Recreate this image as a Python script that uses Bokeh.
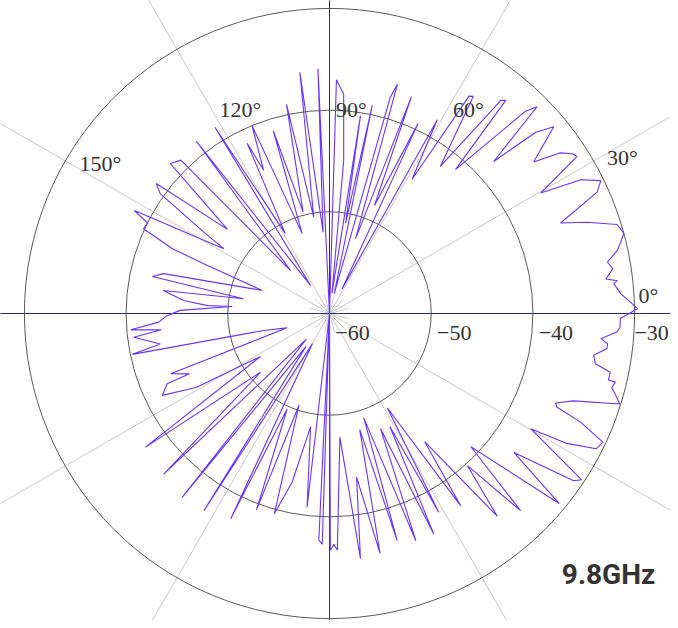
import numpy as np
from bokeh.plotting import figure
from bokeh.models import Range1d, ColumnDataSource
from bokeh.embed import file_html
from bokeh.resources import INLINE
from bokeh.core.properties import value

# ---------------- data ----------------
angles_deg = [
    0.9, 3.9, 6.0, 6.5, 7.1, 9.0, 10.5, 12.4, 15.2, 17.2, 19.5, 21.4, 24.4, 26.1, 28.0, 29.7,
    32.4, 33.3, 34.9, 36.6, 39.8, 41.3, 42.8, 44.9, 45.9, 48.8, 50.4, 51.2, 53.0, 56.5, 57.3, 58.4,
    60.9, 62.8, 65.0, 67.4, 69.3, 70.8, 73.5, 74.3, 76.5, 78.4, 79.9, 81.1, 83.0, 84.7, 86.3, 88.3,
    90.0, 92.7, 94.5, 97.0, 99.3, 101.6, 104.6, 107.1, 108.9, 112.4, 114.7, 115.8, 118.9, 121.6,
    124.0, 127.7, 132.2, 134.1,
    136.7, 140.5, 143.1, 144.7, 147.2, 148.5, 152.2, 153.5, 155.5, 157.6, 158.4, 161.1, 166.5,
    168.2, 170.3, 172.1, 174.9, 176.3, 175.9, 178.8,
    181.0, 182.9, 184.7, 185.5, 186.9, 190.2, 191.7, 194.5, 198.7, 200.8, 203.3, 203.4, 206.1,
    209.0, 211.9, 216.0, 220.4, 224.1, 228.0, 231.3, 234.5, 237.5, 240.5, 244.3, 246.1, 249.6,
    251.6, 254.6, 257.5, 260.5, 263.4,
    265.0, 267.3, 268.2, 269.3, 270.2, 271.1, 271.9, 274.8, 277.2, 279.4, 281.9, 284.6, 286.6,
    288.2, 290.8, 293.9, 295.3, 298.1, 298.8, 301.5, 304.3, 306.6, 309.6, 312.2, 314.1, 316.7,
    320.4, 323.0, 325.6, 326.6, 330.2, 331.3, 333.1, 334.8, 336.6, 337.6, 338.4, 340.3, 342.7,
    344.0, 345.3, 346.5, 346.6, 348.2, 349.3, 351.0, 352.8, 353.8, 354.7, 356.3, 357.3, 359.0,
    360.9,
]
gain_db = [
    -29.7, -31.3, -31.9, -31.5, -32.6, -31.8, -32.2, -31.0, -30.0, -30.4, -33.1, -35.6, -31.1, -30.3, -32.0, -36.1,
    -31.2, -31.4, -32.4, -35.0, -31.3, -33.0, -38.0, -31.2, -32.3, -41.2, -32.8, -33.1, -41.9, -34.4, -34.6, -44.5,
    -38.2, -57.3, -39.4, -48.5, -37.2, -52.2, -36.5, -37.9, -58.0, -39.1, -51.0, -40.3, -58.0, -44.9, -38.4, -37.0,
    -60.0, -35.9, -52.0, -36.1, -50.4, -39.0, -49.7, -41.2, -51.7, -40.0, -44.5, -41.4, -51.0, -38.5,
    -56.7, -38.6, -54.3, -39.0,
    -38.5, -47.0, -38.7, -39.6, -45.5, -47.8, -38.3, -40.0, -39.9, -43.3, -46.7, -53.0, -43.2,
    -42.2, -51.4, -43.5, -45.6, -48.0, -50.4, -45.3,
    -43.9, -43.2, -40.4, -43.4, -40.6, -43.1, -40.2, -53.3, -55.6, -43.3, -45.0, -42.6, -41.7,
    -45.0, -52.0, -37.6, -51.1, -37.3, -56.6, -36.8, -56.0, -37.0, -56.6, -37.6, -49.7, -39.4,
    -50.5, -39.6, -43.0, -48.7, -40.8,
    -60.0, -37.7, -37.3, -60.0, -36.7, -37.3, -36.7, -47.8, -35.7, -43.7, -35.9, -48.2, -36.7,
    -49.2, -36.1, -47.6, -36.0, -47.4, -37.7, -49.1, -37.1, -44.3, -34.1, -39.8, -33.0, -40.9,
    -30.7, -37.3, -30.9, -30.3, -37.2, -33.4, -30.6, -30.3, -33.1, -35.8, -36.1, -34.5, -30.1,
    -30.7, -31.3, -31.1, -31.8, -31.8, -33.4, -33.7, -32.5, -32.5, -33.2, -31.7, -31.4, -31.4,
    -29.7,
]

r_min_db = -60
ring_db = [-50, -40, -30]
radial_tick_db = [-60, -50, -40, -30]
radial_tick_labels = ["\u221260", "\u221250", "\u221240", "\u221230"]
spoke_deg = [30, 60, 120, 150]
angle_tick_labels = ["0°", "30°", "60°", "90°", "120°", "150°"]
freq_label = "9.8GHz"

# ---------------- layout / styles ----------------
PX_PER_DB = 10.17
W, H = 670, 620
CX, CY = 329, 313          # pole position inside the figure (from left / from top)

def rad(db):
    return np.maximum(np.asarray(db, dtype=float) - r_min_db, 0.0) * PX_PER_DB

p = figure(width=W, height=H, x_range=Range1d(-CX, W - CX), y_range=Range1d(-(H - CY), CY),
           output_backend="svg", toolbar_location=None, min_border=0,
           x_axis_location=None, y_axis_location=None)
p.grid.visible = False
p.outline_line_color = None
p.background_fill_color = "white"
p.border_fill_color = "white"

L = 1200
# light grey spokes
sp = np.deg2rad(np.array(spoke_deg, dtype=float))
p.segment(x0=-L * np.cos(sp), y0=-L * np.sin(sp), x1=L * np.cos(sp), y1=L * np.sin(sp),
          line_color="#c8c8c8", line_width=1)
# short minor spokes near the pole
mn = np.deg2rad(np.arange(15, 360, 30, dtype=float))
p.segment(x0=np.zeros(len(mn)), y0=np.zeros(len(mn)), x1=20 * np.cos(mn), y1=20 * np.sin(mn),
          line_color="#d0d0d0", line_width=1)
# rings
rr = rad(ring_db)
p.circle(x=np.zeros(len(rr)), y=np.zeros(len(rr)), radius=rr, fill_color=None,
         line_color="#5a5a5a", line_width=1)
# main axes (0/180 and 90/270)
p.segment(x0=[-L, 0], y0=[0, -L], x1=[L, 0], y1=[0, L], line_color="#2a2a7c", line_width=1)

# pattern trace
th = np.deg2rad(np.array(angles_deg, dtype=float))
r = rad(gain_db)
src = ColumnDataSource(dict(x=r * np.cos(th), y=r * np.sin(th)))
p.line("x", "y", source=src, line_color="#6a34ff", line_width=1.1)

# radial tick labels (last one nudged inward so it stays inside the canvas)
rt_off = [23, 23, 23, 17]
rt = ColumnDataSource(dict(x=rad(radial_tick_db) + np.array(rt_off), y=[-19.5] * 4,
                           t=radial_tick_labels))
p.text("x", "y", text="t", source=rt, text_font=value("Liberation Serif"),
       text_font_size="22px", text_color="#333333", text_align="center", text_baseline="middle")

# angle tick labels
ax_pos_x = [319, 293, 139, 22, -89, -229]
ax_pos_y = [18, 156, 204, 204, 204, 150]
at = ColumnDataSource(dict(x=ax_pos_x, y=ax_pos_y, t=angle_tick_labels))
p.text("x", "y", text="t", source=at, text_font=value("Liberation Serif"),
       text_font_size="22px", text_color="#333333", text_align="center", text_baseline="middle")

# frequency label
p.text(x=[279], y=[-261], text=[freq_label], text_font=value("Roboto"),
       text_font_style="bold", text_font_size="28px", text_color="#333333",
       text_align="center", text_baseline="middle")

open("out.html", "w").write(file_html(p, INLINE))
